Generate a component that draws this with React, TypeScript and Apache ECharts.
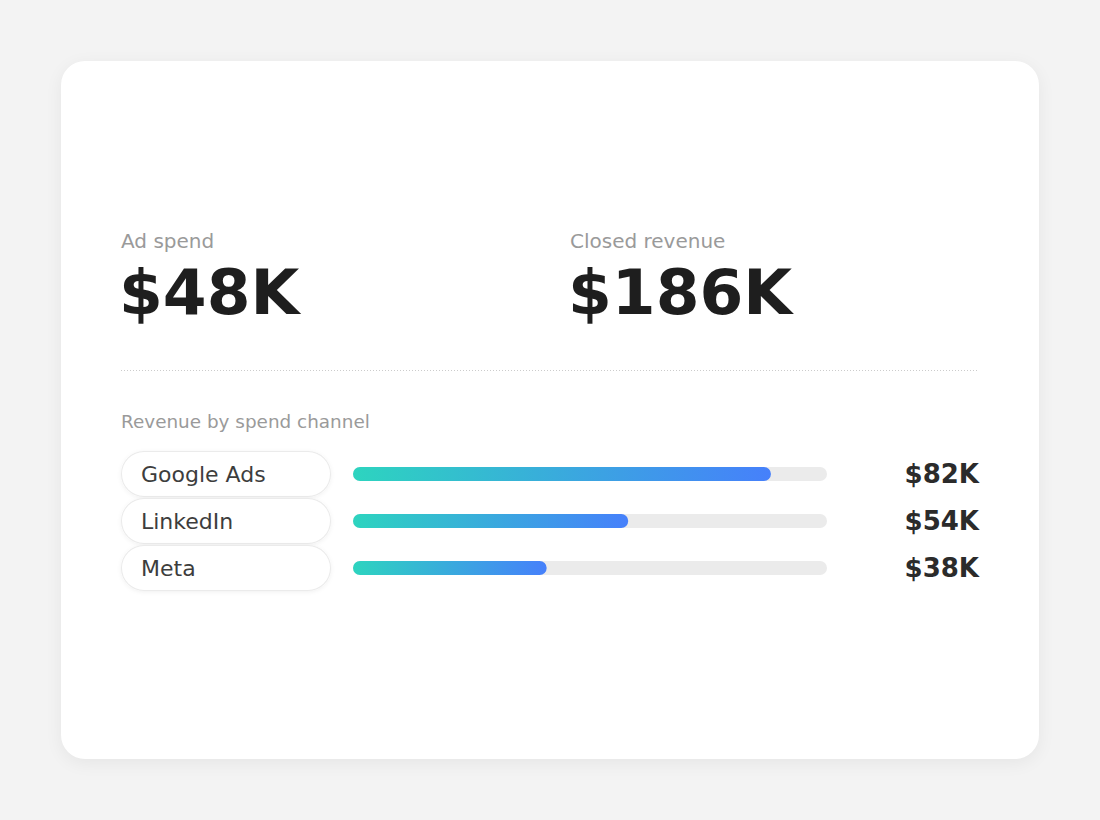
import * as echarts from "echarts";
import { useEffect, useRef } from "react";

const kpiLabels = ["Ad spend", "Closed revenue"];
const kpiValues = ["$48K", "$186K"];
const channels = ["Google Ads", "LinkedIn", "Meta"];
const revenue = [82, 54, 38];
const axisMax = 93;

const FONT = "'DejaVu Sans', sans-serif";
const CARD_W = 978;
const CARD_H = 698;

export default function App() {
  const chartRef = useRef<HTMLDivElement | null>(null);

  useEffect(() => {
    const el = chartRef.current;
    if (!el) return;
    const chart = echarts.init(el, undefined, { renderer: "svg" });

    const option: echarts.EChartsOption = {
      animation: false,
      textStyle: { fontFamily: FONT },
      grid: { left: 292, top: 389.5, width: 474, height: 141, containLabel: false },
      xAxis: { type: "value", min: 0, max: axisMax, show: false },
      yAxis: [
        {
          type: "category",
          data: channels,
          inverse: true,
          axisLine: { show: false },
          axisTick: { show: false },
          splitLine: { show: false },
          axisLabel: {
            align: "left",
            margin: 231,
            fontFamily: FONT,
            fontSize: 22,
            color: "#3d3d3d",
            width: 189,
            lineHeight: 44,
            padding: [0, 0, 0, 19],
            backgroundColor: "#ffffff",
            borderColor: "#ebebeb",
            borderWidth: 1,
            borderRadius: 23,
            shadowColor: "rgba(0,0,0,0.06)",
            shadowBlur: 4,
            shadowOffsetY: 1,
          },
        },
        {
          type: "category",
          data: revenue.map((v) => `$${v}K`),
          inverse: true,
          position: "right",
          axisLine: { show: false },
          axisTick: { show: false },
          splitLine: { show: false },
          axisLabel: {
            align: "right",
            margin: 152,
            fontFamily: FONT,
            fontSize: 26,
            fontWeight: "bold",
            color: "#2b2b2b",
          },
        },
      ],
      series: [
        {
          type: "bar",
          data: revenue,
          barWidth: 14,
          showBackground: true,
          backgroundStyle: { color: "#ebebeb", borderRadius: 7 },
          itemStyle: {
            borderRadius: 7,
            color: new echarts.graphic.LinearGradient(0, 0, 1, 0, [
              { offset: 0, color: "#2dd4bf" },
              { offset: 1, color: "#4680fb" },
            ]),
          },
        },
      ],
      graphic: [
        ...kpiLabels.flatMap((label, i) => [
          {
            type: "text" as const,
            x: 60 + i * 449,
            y: 180,
            style: {
              text: label,
              font: `20px ${FONT}`,
              fill: "#9a9a9a",
              verticalAlign: "middle" as const,
            },
          },
          {
            type: "text" as const,
            x: 58 + i * 449,
            y: 231,
            style: {
              text: kpiValues[i],
              font: `bold 63px ${FONT}`,
              fill: "#1e1e1e",
              verticalAlign: "middle" as const,
            },
          },
        ]),
        {
          type: "line",
          shape: { x1: 60, y1: 309.5, x2: 918, y2: 309.5 },
          style: { stroke: "#cccccc", lineWidth: 1, lineDash: [1, 2] },
        },
        {
          type: "text",
          x: 60,
          y: 360,
          style: {
            text: "Revenue by spend channel",
            font: `18.4px ${FONT}`,
            fill: "#9a9a9a",
            verticalAlign: "middle",
          },
        },
      ],
    };

    chart.setOption(option);
    return () => {
      if (!chart.isDisposed()) chart.dispose();
    };
  }, []);

  return (
    <div
      style={{
        position: "fixed",
        left: 0,
        top: 0,
        width: 1100,
        height: 820,
        background: "#f3f3f3",
      }}
    >
      <div
        style={{
          position: "absolute",
          left: 61,
          top: 61,
          width: CARD_W,
          height: CARD_H,
          background: "#ffffff",
          borderRadius: 24,
          boxShadow: "0 4px 18px rgba(0,0,0,0.06)",
          overflow: "hidden",
        }}
      >
        <div ref={chartRef} style={{ width: CARD_W, height: CARD_H }} />
      </div>
    </div>
  );
}
